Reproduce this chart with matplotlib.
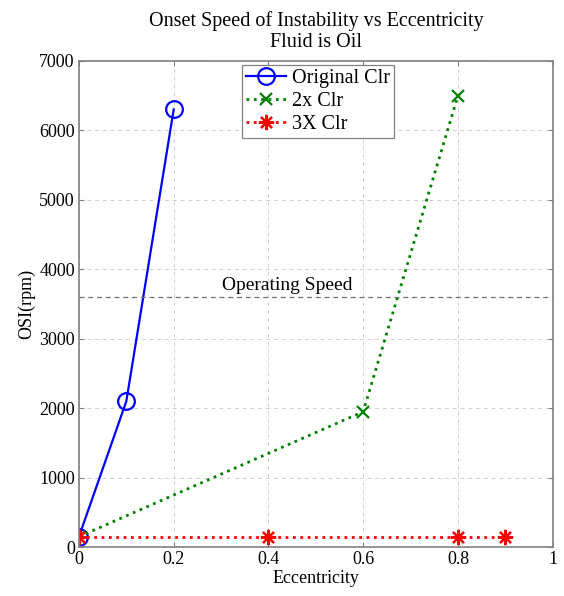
import matplotlib
matplotlib.use("Agg")
import matplotlib.pyplot as plt

plt.rcParams["font.family"] = ["Liberation Serif", "DejaVu Serif"]

ecc_orig = [0, 0.1, 0.2]
osi_orig = [150, 2100, 6300]
ecc_2x = [0, 0.6, 0.8]
osi_2x = [150, 1950, 6500]
ecc_3x = [0, 0.4, 0.8, 0.9]
osi_3x = [150, 150, 150, 150]
operating_speed = 3600

fig = plt.figure(figsize=(5.64, 5.96), dpi=100)
ax = fig.add_axes([0.140, 0.082, 0.840, 0.816])

ax.plot(ecc_orig, osi_orig, color="#0000ff", linestyle="-", linewidth=1.6,
        marker="o", markersize=12, markerfacecolor="none", markeredgewidth=1.6,
        label="Original Clr")
ax.plot(ecc_2x, osi_2x, color="#008000", linestyle=":", linewidth=2,
        marker="x", markersize=9, markeredgewidth=1.6, label="2x Clr")
ax.plot(ecc_3x, osi_3x, color="#ff0000", linestyle=":", linewidth=2,
        marker=(8, 2, 0), markersize=11, markeredgewidth=1.6, label="3X Clr")

ax.axhline(operating_speed, color="#707070", linestyle="--", linewidth=0.9, dashes=(4, 3))
ax.text(0.44, operating_speed + 40, "Operating Speed", fontsize=14, ha="center", va="bottom")

ax.set_xlim(0, 1)
ax.set_ylim(0, 7000)
ax.set_xticks([0, 0.2, 0.4, 0.6, 0.8, 1])
ax.set_xticklabels(["0", "0.2", "0.4", "0.6", "0.8", "1"])
ax.set_yticks(range(0, 7001, 1000))
ax.grid(True, color="#d0d0d0", linestyle="--", linewidth=0.7, dashes=(4, 4))
ax.tick_params(direction="in", top=True, right=True, labelsize=13, color="#808080", pad=3)
for s in ax.spines.values():
    s.set_color("#808080")
    s.set_linewidth(1.2)

ax.set_xlabel("Eccentricity", fontsize=13, labelpad=1)
ax.set_ylabel("OSI(rpm)", fontsize=13, labelpad=3)
ax.set_title("Onset Speed of Instability vs Eccentricity\nFluid is Oil", fontsize=14.5,
             pad=10, linespacing=1.15)

leg = ax.legend(loc="upper center", bbox_to_anchor=(0.505, 0.992), fontsize=14.5,
                fancybox=False, framealpha=1, edgecolor="#808080", borderaxespad=0,
                handlelength=2.0, borderpad=0.2, labelspacing=0.2, handletextpad=0.3)
leg.get_frame().set_linewidth(0.9)

fig.savefig("out.png", dpi=100)
